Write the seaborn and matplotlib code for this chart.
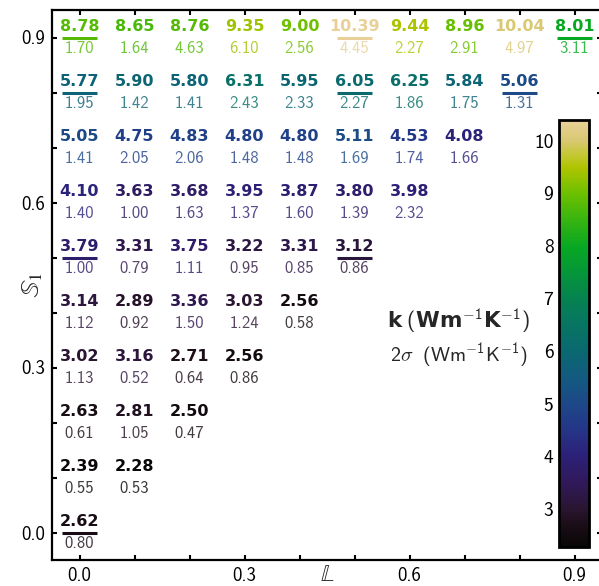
import numpy as np
import pandas as pd
import matplotlib
matplotlib.use("Agg")
import matplotlib.pyplot as plt
import seaborn as sns
from matplotlib.colors import LinearSegmentedColormap, Normalize
from matplotlib.cm import ScalarMappable

# ---------------- data ----------------
L_vals = [0.0, 0.1, 0.2, 0.3, 0.4, 0.5, 0.6, 0.7, 0.8, 0.9]
S_rows = [0.9, 0.8, 0.7, 0.6, 0.5, 0.4, 0.3, 0.2, 0.1, 0.0]
k_rows = [
    [8.78, 8.65, 8.76, 9.35, 9.00, 10.39, 9.44, 8.96, 10.04, 8.01],
    [5.77, 5.90, 5.80, 6.31, 5.95, 6.05, 6.25, 5.84, 5.06],
    [5.05, 4.75, 4.83, 4.80, 4.80, 5.11, 4.53, 4.08],
    [4.10, 3.63, 3.68, 3.95, 3.87, 3.80, 3.98],
    [3.79, 3.31, 3.75, 3.22, 3.31, 3.12],
    [3.14, 2.89, 3.36, 3.03, 2.56],
    [3.02, 3.16, 2.71, 2.56],
    [2.63, 2.81, 2.50],
    [2.39, 2.28],
    [2.62],
]
sigma_rows = [
    [1.70, 1.64, 4.63, 6.10, 2.56, 4.45, 2.27, 2.91, 4.97, 3.11],
    [1.95, 1.42, 1.41, 2.43, 2.33, 2.27, 1.86, 1.75, 1.31],
    [1.41, 2.05, 2.06, 1.48, 1.48, 1.69, 1.74, 1.66],
    [1.40, 1.00, 1.63, 1.37, 1.60, 1.39, 2.32],
    [1.00, 0.79, 1.11, 0.95, 0.85, 0.86],
    [1.12, 0.92, 1.50, 1.24, 0.58],
    [1.13, 0.52, 0.64, 0.86],
    [0.61, 1.05, 0.47],
    [0.55, 0.53],
    [0.80],
]
underlined = [(0.0, 0.9), (0.5, 0.9), (0.9, 0.9), (0.0, 0.8), (0.5, 0.8),
              (0.8, 0.8), (0.0, 0.5), (0.5, 0.5), (0.0, 0.0)]
tick_labels = ["0.0", "", "", "0.3", "", "", "0.6", "", "", "0.9"]
cbar_ticks = [3, 4, 5, 6, 7, 8, 9, 10]

recs = []
for S, krow, srow in zip(S_rows, k_rows, sigma_rows):
    for L, k, s in zip(L_vals, krow, srow):
        recs.append(dict(L=L, S=S, k=k, sigma=s,
                         under=(L, S) in underlined))
df = pd.DataFrame(recs)

# ---------------- style ----------------
sns.set_theme(style="ticks")
plt.rcParams["font.family"] = ["cmss10", "DejaVu Sans"]
plt.rcParams["mathtext.fontset"] = "custom"
plt.rcParams["mathtext.rm"] = "cmss10"
plt.rcParams["mathtext.it"] = "cmss10"
plt.rcParams["mathtext.bf"] = "DejaVu Sans:bold"
plt.rcParams["axes.unicode_minus"] = True

vmin, vmax = df["k"].min(), df["k"].max()
norm = Normalize(vmin=vmin, vmax=vmax)
anchor_v = [2.28, 2.7, 3.0, 3.5, 4.0, 4.5, 5.0, 5.5, 6.0, 6.5, 7.0,
            7.5, 8.0, 8.5, 9.0, 9.5, 9.8, 10.0, 10.39]
anchor_c = ["#080606", "#1c0e18", "#2a1532", "#30195a", "#2c2078",
            "#253588", "#1d4888", "#135a80", "#0a6870", "#077562",
            "#068250", "#059638", "#08a822", "#38b410", "#6cc000",
            "#b0c400", "#c8c840", "#d8c870", "#e8d098"]
pos = [min(max((v - vmin) / (vmax - vmin), 0), 1) for v in anchor_v]
pos[0], pos[-1] = 0.0, 1.0
cmap = LinearSegmentedColormap.from_list("kmap", list(zip(pos, anchor_c)))

fig = plt.figure(figsize=(5.99, 5.86), dpi=100)
ax = fig.add_axes([52 / 599, 26 / 586, 550 / 599, 550 / 586])

# underline marks
ul = df[df["under"]]
sns.scatterplot(data=ul, x="L", y="S", hue="k", palette=cmap, hue_norm=norm,
                marker="_", s=650, linewidth=2.2, legend=False, ax=ax,
                zorder=3)

for _, r in df.iterrows():
    col = cmap(norm(r["k"]))
    ax.annotate(f"{r['k']:.2f}", (r["L"], r["S"]), xytext=(0, 5),
                textcoords="offset points", ha="center", va="baseline",
                color=col, fontsize=11.5, fontweight="bold",
                family="DejaVu Sans")
    ax.annotate(f"{r['sigma']:.2f}", (r["L"], r["S"]), xytext=(0, -11),
                textcoords="offset points", ha="center", va="baseline",
                color=col, alpha=0.8, fontsize=12)

ax.set_xlim(-0.05, 0.95)
ax.set_ylim(-0.05, 0.95)
ax.set_xticks(L_vals)
ax.set_xticklabels(tick_labels)
ax.set_yticks(L_vals)
ax.set_yticklabels(tick_labels)
ax.tick_params(direction="in", top=True, right=True, length=3.5, width=1.5,
               labelsize=13.5, pad=5, colors="black")
for sp in ax.spines.values():
    sp.set_linewidth(1.6)
    sp.set_color("black")
    sp.set_visible(True)

ax.set_xlabel(r"$\mathbb{L}$", fontsize=17, math_fontfamily="stix")
ax.set_ylabel(r"$\mathbb{S}_1$", fontsize=19, math_fontfamily="stix")
ax.xaxis.set_label_coords(0.5, -0.008)
ax.yaxis.set_label_coords(-0.012, 0.5)

ax.text(0.69, 0.384, r"$\mathbf{k}\ (\mathbf{Wm}^{-1}\mathbf{K}^{-1})$",
        ha="center", va="center", fontsize=15.5)
ax.text(0.69, 0.322, r"$2\sigma\ \ (\mathrm{Wm}^{-1}\mathrm{K}^{-1})$",
        ha="center", va="center", fontsize=14.5)

# colorbar
cax = fig.add_axes([559 / 599, 39 / 586, 30 / 599, 427 / 586])
cb = fig.colorbar(ScalarMappable(norm=norm, cmap=cmap), cax=cax,
                  ticks=cbar_ticks)
cax.yaxis.set_ticks_position("both")
cax.tick_params(direction="in", left=True, right=True, labelleft=True,
                labelright=False, length=4, width=1.5, labelsize=14,
                colors="black", pad=4)
cb.outline.set_linewidth(2)
cb.outline.set_edgecolor("black")

fig.savefig("out.png", dpi=100)
